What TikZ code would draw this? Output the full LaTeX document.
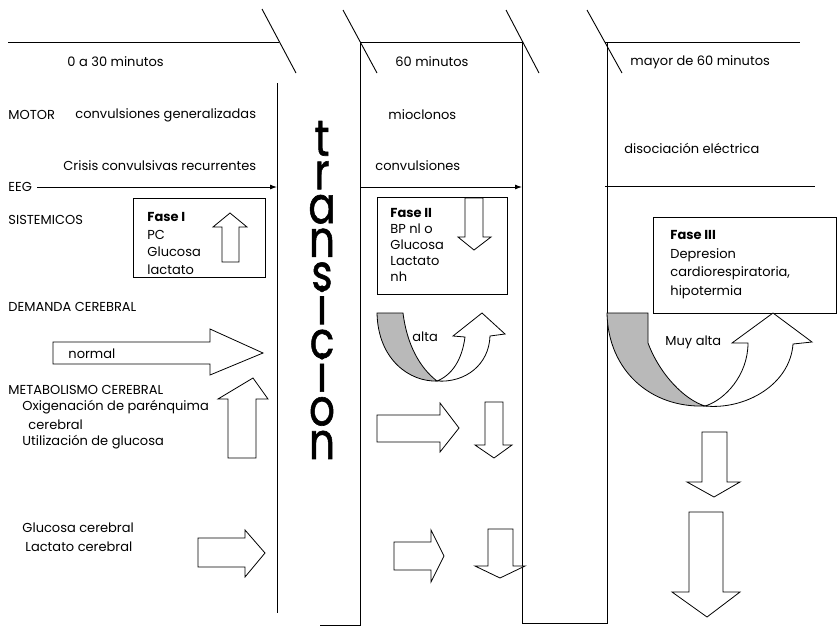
\documentclass[tikz,border=0pt]{standalone}
\usepackage{fontspec}
\setmainfont{Poppins}
\newfontfamily\trfont{Poppins}[FakeBold=1.2]
\usetikzlibrary{arrows.meta}

\begin{document}
\begin{tikzpicture}[x=1pt, y=1pt, yscale=-1, line width=0.9pt,
  every node/.style={inner sep=0pt, font=\fontsize{13}{17.5}\selectfont},
  flecha/.style={draw, line width=0.8pt, fill=white},
  sombra/.style={draw, line width=0.8pt, fill=gray!55}]
\useasboundingbox (0, 0) rectangle (838, 630);
% lineas de tiempo
\draw (8, 42) -- (279, 42);
\draw (360, 42) -- (523, 42);
\draw (605, 42) -- (800, 42);
\draw (262, 9) -- (296, 73);
\draw (343, 10) -- (377, 73);
\draw (506, 10) -- (539, 73);
\draw (587, 10) -- (622, 73);
% columnas
\draw (277, 83) -- (277, 613);
\draw (320, 625) -- (360, 625) -- (360, 42);
\draw (522, 42) -- (522, 623) -- (607, 623) -- (607, 42);
\draw (605, 186) -- (815, 186);
\coordinate (l1eeg) at (277, 187);
\coordinate (l2eeg) at (360, 187);
\coordinate (l3eeg) at (522, 187);
%Text
\draw (67, 62) node[anchor=west] (t0a30) {0 a 30 minutos};
\draw (395, 62) node[anchor=west] (t60) {60 minutos};
\draw (630, 62) node[anchor=west] (tmayor) {mayor de 60 minutos};
\draw (8, 115) node[anchor=west] (motor) {MOTOR};
\draw (75, 115) node[anchor=west] (convgen) {convulsiones generalizadas};
\draw (388, 115) node[anchor=west] (mioclonos) {mioclonos};
\draw (63, 166) node[anchor=west] (crisis) {Crisis convulsivas recurrentes};
\draw (375, 166) node[anchor=west] (convulsiones) {convulsiones};
\draw (624, 148) node[anchor=west] (disociacion) {disociación eléctrica};
\draw (8, 187) node[anchor=west] (eeg) {EEG};
\draw (8, 220) node[anchor=west] (sistemicos) {SISTEMICOS};
\draw (8, 307) node[anchor=west] (demanda) {DEMANDA CEREBRAL};
\draw (8, 390) node[anchor=west] (metabolismo) {METABOLISMO CEREBRAL};
\draw (22, 407) node[anchor=west] (oxigenacion) {Oxigenación de parénquima};
\draw (28, 425) node[anchor=west] (cerebral) {cerebral};
\draw (22, 442) node[anchor=west] (utilizacion) {Utilización de glucosa};
\draw (22, 528) node[anchor=west] (glucosacer) {Glucosa cerebral};
\draw (25, 547) node[anchor=west] (lactatocer) {Lactato cerebral};
% EEG
\draw[-{Latex[length=7pt, width=5pt]}, shorten <=5pt] (eeg) -- (l1eeg);
\draw[-{Latex[length=7pt, width=5pt]}] (l2eeg) -- (l3eeg);
% transicion
\draw (322, 290) node (transicion) {\scalebox{0.92}[1.15]{\parbox{40pt}{\centering
  \trfont\fontsize{44}{29.3}\selectfont\lineskiplimit=-100pt t\\r\\a\\n\\s\\i\\c\\i\\o\\n}}};
% Fase I
\draw (133, 198) rectangle (265, 277);
\draw (147, 212) node[anchor=north west, align=left] (fase1) {\textbf{Fase I}\\PC\\Glucosa\\lactato};
\draw[flecha] (222, 262) -- (222, 227) -- (213, 227) -- (230, 213) -- (247, 227) -- (239, 227) -- (239, 262) -- cycle;
% Fase II
\draw (377, 197) rectangle (507, 294);
\draw (390, 208) node[anchor=north west, align=left, font=\fontsize{13}{16}\selectfont] (fase2) {\textbf{Fase II}\\BP nl o\\Glucosa\\Lactato\\nh};
\draw[flecha] (465, 198) -- (465, 237) -- (458, 237) -- (474, 250) -- (491, 237) -- (483, 237) -- (483, 198) -- cycle;
% Fase III
\draw (653, 217) rectangle (836, 313);
\draw (670, 230) node[anchor=north west, align=left, font=\fontsize{13}{18.5}\selectfont] (fase3) {\textbf{Fase III}\\Depresion\\cardiorespiratoria,\\hipotermia};
% normal
\draw[flecha] (53, 342) -- (210, 342) -- (210, 329) -- (263, 353) -- (210, 375) -- (210, 364) -- (53, 364) -- cycle;
\draw (68, 354) node[anchor=west] (normal) {normal};
% metabolismo
\draw[flecha] (228, 458) -- (228, 399) -- (218, 399) -- (253, 378) -- (268, 399) -- (256, 399) -- (256, 458) -- cycle;
\draw[flecha] (198, 538) -- (245, 538) -- (245, 530) -- (265, 553) -- (245, 577) -- (245, 567) -- (198, 567) -- cycle;
% alta
\draw[sombra] (377, 313) -- (403, 313) .. controls (407, 345) and (420, 368) .. (437, 381)
  .. controls (410, 382) and (378, 360) .. (377, 313) -- cycle;
\draw[flecha] (437, 381) .. controls (465, 383) and (489, 365) .. (490, 336) -- (505, 334) -- (482, 313)
  -- (453, 336) -- (465, 337) .. controls (462, 360) and (452, 375) .. (437, 381) -- cycle;
\draw (412, 337) node[anchor=west] (alta) {alta};
\draw[flecha] (377, 415) -- (440, 415) -- (440, 403) -- (459, 428) -- (440, 452) -- (440, 442) -- (377, 442) -- cycle;
\draw[flecha] (485, 402) -- (485, 445) -- (475, 445) -- (494, 458) -- (512, 445) -- (503, 445) -- (503, 402) -- cycle;
\draw[flecha] (394, 542) -- (431, 542) -- (431, 530) -- (444, 556) -- (431, 582) -- (431, 570) -- (394, 570) -- cycle;
\draw[flecha] (488, 529) -- (488, 566) -- (475, 566) -- (500, 578) -- (525, 566) -- (513, 566) -- (513, 529) -- cycle;
% Muy alta
\draw[sombra] (607, 313) -- (648, 313) -- (648, 343) .. controls (660, 375) and (685, 400) .. (705, 406)
  .. controls (650, 408) and (608, 370) .. (607, 313) -- cycle;
\draw[flecha] (705, 406) .. controls (745, 410) and (790, 385) .. (793, 344) -- (812, 342) -- (773, 313)
  -- (732, 343) -- (748, 343) .. controls (748, 375) and (725, 400) .. (705, 406) -- cycle;
\draw (665, 342) node[anchor=west] (muyalta) {Muy alta};
\draw[flecha] (702, 432) -- (702, 482) -- (687, 482) -- (714, 497) -- (740, 482) -- (727, 482) -- (727, 432) -- cycle;
\draw[flecha] (689, 512) -- (689, 592) -- (672, 592) -- (707, 617) -- (740, 592) -- (723, 592) -- (723, 512) -- cycle;
\end{tikzpicture}
\end{document}
